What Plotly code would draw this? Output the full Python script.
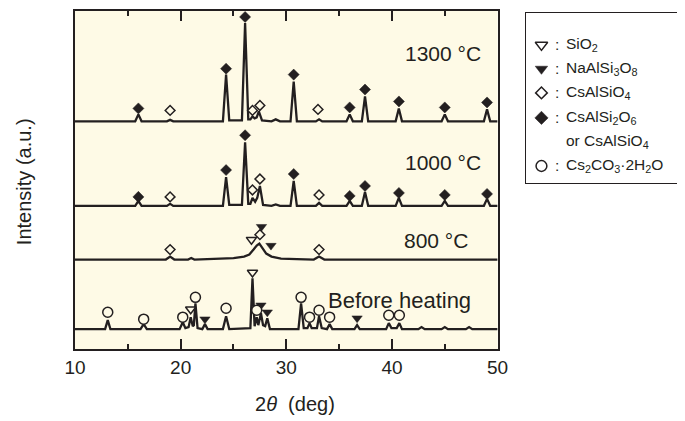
import plotly.graph_objects as go

INK = "#231f20"
CREAM = "#fefae6"
FONT = "Liberation Sans, Arial, sans-serif"

# ---------------- data (2theta in deg, intensity in a.u.) ----------------
pattern_offsets = {"before": 20, "800": 90, "1000": 144, "1300": 229}

pattern_before = [(10, 0), (12.85, 0), (13.1, 9), (13.35, 0), (16.2, 0), (16.5, 5), (16.8, 0),
                  (19.9, 0), (20.2, 7), (20.45, 1), (20.75, 2), (20.95, 12), (21.15, 3), (21.25, 4),
                  (21.4, 26), (21.6, 1), (22.05, 0), (22.3, 5), (22.55, 0), (24.0, 0), (24.3, 13),
                  (24.6, 0), (26.6, 1), (26.8, 51), (27.0, 3), (27.2, 12), (27.35, 4), (27.6, 16),
                  (27.8, 4), (28.0, 3), (28.2, 11), (28.45, 0), (31.15, 0), (31.4, 26), (31.65, 1),
                  (32.0, 1), (32.2, 6), (32.4, 1), (32.9, 1), (33.1, 13), (33.35, 1), (33.85, 0),
                  (34.1, 5), (34.35, 0), (36.45, 0), (36.7, 4), (36.95, 0), (39.45, 0), (39.7, 6),
                  (39.95, 1), (40.45, 1), (40.7, 6), (40.95, 0), (42.5, 0), (42.8, 2), (43.1, 0),
                  (44.7, 0), (45.0, 2), (45.3, 0), (47.0, 0), (47.3, 2), (47.6, 0), (50, 0)]

pattern_800 = [(10, 0), (15, 0), (18.6, 0), (19.0, 3), (19.4, 0), (20.7, 0), (21.0, 1.5), (21.3, 0),
               (23.5, 0.5), (25, 1.5), (26, 3), (26.5, 5), (26.9, 10), (27.2, 14), (27.45, 16),
               (27.75, 11), (28.1, 6), (28.6, 3), (29.5, 1), (31, 0.5), (32.6, 0), (33.1, 3),
               (33.6, 0), (38, 0), (50, 0)]

pattern_1000 = [(10, 0), (15.7, 0), (16.0, 5), (16.3, 0), (18.7, 0), (19.0, 2), (19.3, 0), (24.0, 0),
                (24.3, 29), (24.6, 1), (25.8, 1), (26.1, 64), (26.4, 2), (26.6, 2), (26.8, 8),
                (27.05, 4), (27.25, 8), (27.5, 20), (27.8, 1), (28.6, 0), (29.0, 1.5), (29.4, 0),
                (30.4, 0), (30.7, 25), (31.0, 0), (32.8, 0), (33.1, 3), (33.4, 0), (35.7, 0),
                (36.0, 5), (36.3, 0), (37.15, 0), (37.45, 14), (37.75, 0), (40.35, 0), (40.65, 8),
                (40.95, 0), (44.7, 0), (45.0, 5), (45.3, 0), (48.7, 0), (49.0, 7), (49.3, 0), (50, 0)]

pattern_1300 = [(10, 0), (15.7, 0), (16.0, 7), (16.3, 0), (18.7, 0), (19.0, 1.5), (19.3, 0), (24.0, 0),
                (24.3, 47), (24.6, 1), (25.8, 1), (26.1, 99), (26.4, 2), (26.6, 2), (26.8, 5),
                (27.0, 3), (27.2, 4), (27.4, 10), (27.7, 1), (28.6, 0), (29.0, 2), (29.4, 0),
                (30.4, 0), (30.7, 40), (31.0, 0), (32.8, 0), (33.1, 2), (33.4, 0), (35.7, 0),
                (36.0, 7), (36.3, 0), (37.15, 0), (37.45, 25), (37.75, 0), (40.35, 0), (40.65, 13),
                (40.95, 0), (44.7, 0), (45.0, 7), (45.3, 0), (48.7, 0), (49.0, 12), (49.3, 0), (50, 0)]

# phase markers (2theta, a.u.)
mk_sio2 = [(20.95, 40), (26.8, 77), (26.7, 110)]
mk_naalsi3o8 = [(22.3, 30), (27.6, 44), (28.2, 37), (36.7, 31), (27.65, 123), (28.55, 104)]
mk_csalsio4 = [(19.0, 240), (26.8, 240), (27.5, 245), (33.0, 241),
               (19.0, 153), (26.8, 160), (27.5, 171), (33.1, 155),
               (19.0, 100), (27.5, 115), (33.1, 100)]
mk_csalsi2o6 = [(16.0, 242), (24.3, 282), (26.1, 334), (30.7, 276), (36.0, 243), (37.45, 261),
                (40.66, 249), (45.0, 243), (49.0, 248),
                (16.0, 153), (24.3, 180), (26.1, 215), (30.7, 176), (36.0, 154), (37.45, 164),
                (40.66, 157), (45.0, 155), (49.0, 156)]
mk_cs2co3 = [(13.1, 37), (16.5, 30), (20.2, 32), (21.4, 52), (24.3, 41), (27.2, 39), (31.4, 52),
             (32.2, 32), (33.1, 39), (34.1, 32), (39.7, 34), (40.7, 34)]

# pattern labels (text, 2theta, a.u., font size)
pattern_labels = [("1300 °C", 44.86, 297, 21), ("1000 °C", 44.86, 188, 21),
                  ("800 °C", 44.2, 109, 21), ("Before heating", 40.7, 49, 22)]

legend_rows = [("triangle-down-open", "SiO<sub>2</sub>"),
               ("triangle-down", "NaAlSi<sub>3</sub>O<sub>8</sub>"),
               ("diamond-open", "CsAlSiO<sub>4</sub>"),
               ("diamond", "CsAlSi<sub>2</sub>O<sub>6</sub>"),
               (None, "or CsAlSiO<sub>4</sub>"),
               ("circle-open", "Cs<sub>2</sub>CO<sub>3</sub>·2H<sub>2</sub>O")]
legend_row_y = [0.812, 0.671, 0.530, 0.383, 0.242, 0.100]

# ---------------- figure ----------------
fig = go.Figure()

for key, pat in [("before", pattern_before), ("800", pattern_800),
                 ("1000", pattern_1000), ("1300", pattern_1300)]:
    off = pattern_offsets[key]
    fig.add_trace(go.Scatter(x=[p[0] for p in pat], y=[p[1] + off for p in pat],
                             mode="lines", line=dict(color=INK, width=2.3),
                             hoverinfo="skip", showlegend=False, cliponaxis=False))


def marker_style(kind, legend=False):
    fill = "white" if legend else CREAM
    scale = 1.2 if legend else 1.0
    if kind == "triangle-down-open":
        return dict(symbol="triangle-down", size=9 * scale, color=fill, line=dict(color=INK, width=1.5))
    if kind == "triangle-down":
        return dict(symbol="triangle-down", size=9 * scale, color=INK, line=dict(color=INK, width=0.5))
    if kind == "diamond-open":
        return dict(symbol="diamond", size=7.5 * scale, color=fill, line=dict(color=INK, width=1.5))
    if kind == "diamond":
        return dict(symbol="diamond", size=8.5 * scale, color=INK, line=dict(color=INK, width=0.5))
    return dict(symbol="circle", size=10 * (1.08 if legend else 1.0), color=fill, line=dict(color=INK, width=1.5))


for kind, pts in [("triangle-down-open", mk_sio2), ("triangle-down", mk_naalsi3o8),
                  ("diamond-open", mk_csalsio4), ("diamond", mk_csalsi2o6),
                  ("circle-open", mk_cs2co3)]:
    fig.add_trace(go.Scatter(x=[p[0] for p in pts], y=[p[1] for p in pts], mode="markers",
                             marker=marker_style(kind), hoverinfo="skip", showlegend=False,
                             cliponaxis=False))

# legend box content (own axes)
LEG_FONT = dict(size=15.5, color=INK, family=FONT)
for (kind, text), yy in zip(legend_rows, legend_row_y):
    if kind is not None:
        fig.add_trace(go.Scatter(x=[0.1], y=[yy], mode="markers", marker=marker_style(kind, True),
                                 xaxis="x2", yaxis="y2", hoverinfo="skip", showlegend=False,
                                 cliponaxis=False))
        fig.add_annotation(x=0.176, y=yy, xref="x2", yref="y2", text=":", showarrow=False,
                           xanchor="left", yanchor="middle", font=LEG_FONT)
    fig.add_annotation(x=0.248, y=yy, xref="x2", yref="y2", text=text, showarrow=False,
                       xanchor="left", yanchor="middle", font=LEG_FONT)

for text, xx, yy, fs in pattern_labels:
    fig.add_annotation(x=xx, y=yy, xref="x", yref="y", text=text, showarrow=False,
                       xanchor="center", yanchor="middle", font=dict(size=fs, color=INK, family=FONT))

# axis titles (paper coords: x from plot left at 75px, 608px wide; y from bottom at 349px, 340px tall)
fig.add_annotation(x=(296 - 75) / 608, y=(349 - 404) / 340, xref="paper", yref="paper",
                   text="2<i>θ</i>  (deg)", showarrow=False, xanchor="center", yanchor="middle",
                   font=dict(size=20, color=INK, family=FONT))
fig.add_annotation(x=(24 - 75) / 608, y=(349 - 181) / 340, xref="paper", yref="paper",
                   text="Intensity (a.u.)", showarrow=False, textangle=-90, xanchor="center",
                   yanchor="middle", font=dict(size=20, color=INK, family=FONT))

# cream plot background
fig.add_shape(type="rect", xref="x domain", yref="y domain", x0=0, x1=1, y0=0, y1=1,
              fillcolor=CREAM, line=dict(width=0), layer="below")

# margins compensate the page's 8px body offset
fig.update_layout(
    width=685, height=421,
    margin=dict(l=67, r=10, t=1, b=80),
    paper_bgcolor="white", plot_bgcolor="white",
    font=dict(family=FONT, color=INK),
    xaxis=dict(domain=[0, 424 / 608], range=[10, 50], showline=True, linecolor=INK, linewidth=2,
               mirror="ticks", ticks="inside", ticklen=10, tickwidth=1.6, tickcolor=INK,
               dtick=10, tick0=10, showgrid=False, zeroline=False,
               tickfont=dict(size=19, color=INK, family=FONT), ticklabelstandoff=0,
               minor=dict(ticks="inside", ticklen=5, tickwidth=1.6, tickcolor=INK, dtick=5,
                          showgrid=False)),
    yaxis=dict(domain=[0, 1], range=[0, 340], showline=True, linecolor=INK, linewidth=2,
               mirror=True, ticks="", showticklabels=False, showgrid=False, zeroline=False),
    xaxis2=dict(domain=[(527.7 - 75) / 608, (680.7 - 75) / 608], range=[0, 1], anchor="y2",
                showline=True, linecolor=INK, linewidth=1.4, mirror=True, ticks="",
                showticklabels=False, showgrid=False, zeroline=False),
    yaxis2=dict(domain=[(349 - 182) / 340, (349 - 11) / 340], range=[0, 1], anchor="x2",
                showline=True, linecolor=INK, linewidth=1.4, mirror=True, ticks="",
                showticklabels=False, showgrid=False, zeroline=False),
)

fig.write_html("out.html")
